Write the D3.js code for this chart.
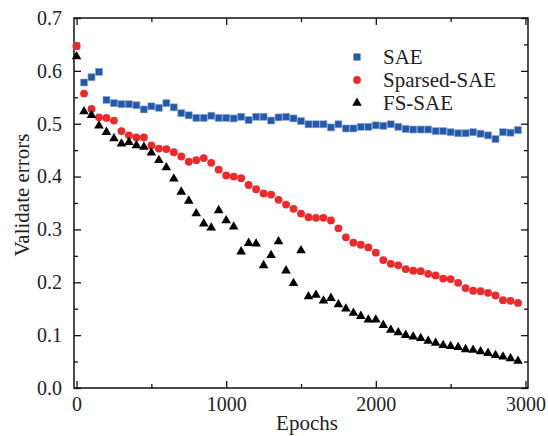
<!DOCTYPE html>
<html>
<head>
<meta charset="utf-8">
<script src="https://cdn.jsdelivr.net/npm/d3@7"></script>
<style>
    body { margin: 0; background: #fff; }
    text { font-family: 'Liberation Serif', 'Times New Roman', serif; fill: #222; }
</style>
</head>
<body>
<div id="svg"></div>
<script>
// epochs (x)
var epochs = [0, 50, 100, 150, 200, 250, 300, 350, 400, 450,
    500, 550, 600, 650, 700, 750, 800, 850, 900, 950,
    1000, 1050, 1100, 1150, 1200, 1250, 1300, 1350, 1400, 1450,
    1500, 1550, 1600, 1650, 1700, 1750, 1800, 1850, 1900, 1950,
    2000, 2050, 2100, 2150, 2200, 2250, 2300, 2350, 2400, 2450,
    2500, 2550, 2600, 2650, 2700, 2750, 2800, 2850, 2900, 2950];

var saeValues = [0.647, 0.578, 0.588, 0.598, 0.545, 0.539, 0.537, 0.537, 0.535, 0.527,
    0.533, 0.530, 0.539, 0.531, 0.520, 0.516, 0.511, 0.511, 0.515, 0.511,
    0.511, 0.510, 0.513, 0.507, 0.513, 0.513, 0.506, 0.512, 0.513, 0.510,
    0.505, 0.499, 0.499, 0.499, 0.493, 0.499, 0.491, 0.491, 0.494, 0.494,
    0.497, 0.496, 0.499, 0.494, 0.490, 0.489, 0.489, 0.489, 0.486, 0.486,
    0.484, 0.482, 0.482, 0.484, 0.481, 0.478, 0.471, 0.484, 0.483, 0.488];

var sparsedValues = [0.647, 0.557, 0.528, 0.512, 0.511, 0.506, 0.486, 0.478, 0.474, 0.474,
    0.459, 0.453, 0.452, 0.446, 0.438, 0.428, 0.431, 0.435, 0.426, 0.413,
    0.402, 0.400, 0.397, 0.384, 0.376, 0.368, 0.366, 0.356, 0.347, 0.339,
    0.330, 0.323, 0.322, 0.322, 0.317, 0.302, 0.285, 0.275, 0.271, 0.266,
    0.256, 0.242, 0.235, 0.232, 0.225, 0.222, 0.221, 0.216, 0.213, 0.207,
    0.206, 0.199, 0.189, 0.184, 0.183, 0.180, 0.175, 0.166, 0.165, 0.161];

var fsValues = [0.627, 0.523, 0.516, 0.496, 0.484, 0.472, 0.462, 0.465, 0.459, 0.456,
    0.445, 0.431, 0.417, 0.396, 0.371, 0.354, 0.330, 0.311, 0.303, 0.336,
    0.317, 0.305, 0.258, 0.274, 0.273, 0.232, 0.251, 0.277, 0.222, 0.198,
    0.260, 0.173, 0.176, 0.165, 0.170, 0.158, 0.150, 0.142, 0.136, 0.129,
    0.129, 0.119, 0.110, 0.105, 0.100, 0.097, 0.094, 0.089, 0.085, 0.081,
    0.079, 0.077, 0.073, 0.072, 0.069, 0.066, 0.062, 0.059, 0.056, 0.051];

var seriesNames = ['SAE', 'Sparsed-SAE', 'FS-SAE'];
var xTicks = [0, 1000, 2000, 3000];
var yTicks = [0.0, 0.1, 0.2, 0.3, 0.4, 0.5, 0.6, 0.7];

var width = 548;
var height = 436;
var plot = { left: 74, right: 528, top: 18, bottom: 388 };

var svg = d3.select('#svg')
    .append('svg')
    .attr('width', width)
    .attr('height', height);

var xScale = d3.scaleLinear()
    .domain([-17, 3017])
    .range([plot.left, plot.right]);
var yScale = d3.scaleLinear()
    .domain([0, 0.7])
    .range([plot.bottom, plot.top]);

// ticks inside the frame, all four sides
function drawAxis(axis, x, y) {
    var g = svg.append('g')
        .attr('transform', 'translate(' + x + ',' + y + ')')
        .call(axis);
    g.select('.domain').remove();
    g.selectAll('line').attr('stroke', '#111').attr('stroke-width', 1.3);
    return g;
}

var xMinor = [500, 1500, 2500];
var yMinor = [0.05, 0.15, 0.25, 0.35, 0.45, 0.55, 0.65];

drawAxis(d3.axisBottom(xScale).tickValues(xTicks).tickSize(-7).tickPadding(9).tickFormat(d3.format('d')), 0, plot.bottom);
drawAxis(d3.axisBottom(xScale).tickValues(xMinor).tickSize(-4).tickFormat(''), 0, plot.bottom);
drawAxis(d3.axisTop(xScale).tickValues(xTicks).tickSize(-7).tickFormat(''), 0, plot.top);
drawAxis(d3.axisTop(xScale).tickValues(xMinor).tickSize(-4).tickFormat(''), 0, plot.top);

drawAxis(d3.axisLeft(yScale).tickValues(yTicks).tickSize(-7).tickPadding(12).tickFormat(d3.format('.1f')), plot.left, 0);
drawAxis(d3.axisLeft(yScale).tickValues(yMinor).tickSize(-4).tickFormat(''), plot.left, 0);
drawAxis(d3.axisRight(yScale).tickValues(yTicks).tickSize(-7).tickFormat(''), plot.right, 0);
drawAxis(d3.axisRight(yScale).tickValues(yMinor).tickSize(-4).tickFormat(''), plot.right, 0);

svg.selectAll('.tick text')
    .style('font-family', "'Liberation Serif', serif")
    .style('font-size', '20px')
    .attr('fill', '#222');

// frame
svg.append('rect')
    .attr('x', plot.left)
    .attr('y', plot.top)
    .attr('width', plot.right - plot.left)
    .attr('height', plot.bottom - plot.top)
    .attr('fill', 'none')
    .attr('stroke', '#111')
    .attr('stroke-width', 1.5);

// axis titles
svg.append('text')
    .attr('x', 307)
    .attr('y', 430)
    .attr('text-anchor', 'middle')
    .style('font-size', '21px')
    .text('Epochs');
svg.append('text')
    .attr('transform', 'translate(29,195) rotate(-90)')
    .attr('text-anchor', 'middle')
    .style('font-size', '21px')
    .text('Validate errors');

// series
var series = [
    { name: seriesNames[0], values: saeValues, symbol: d3.symbolSquare, size: 48, fill: '#2458a9', stroke: '#7d9dd2' },
    { name: seriesNames[1], values: sparsedValues, symbol: d3.symbolCircle, size: 48, fill: '#ec2a2c', stroke: 'none' },
    { name: seriesNames[2], values: fsValues, symbol: d3.symbolTriangle, size: 40, fill: '#000', stroke: 'none' }
];

series.forEach(function (s) {
    var shape = d3.symbol().type(s.symbol).size(s.size);
    svg.append('g')
        .selectAll('path')
        .data(epochs)
        .enter()
        .append('path')
        .attr('d', shape)
        .attr('transform', function (d, i) {
            return 'translate(' + xScale(d) + ',' + yScale(s.values[i]) + ')';
        })
        .attr('fill', s.fill)
        .attr('stroke', s.stroke)
        .attr('stroke-width', 0.6);
});

// legend
var legend = svg.append('g').attr('transform', 'translate(357,57)');
series.forEach(function (s, i) {
    var row = legend.append('g').attr('transform', 'translate(0,' + (i * 23) + ')');
    row.append('path')
        .attr('d', d3.symbol().type(s.symbol).size(s.size)())
        .attr('fill', s.fill)
        .attr('stroke', s.stroke)
        .attr('stroke-width', 0.6);
    row.append('text')
        .attr('x', 26)
        .attr('y', 7)
        .style('font-size', '21px')
        .text(s.name);
});
</script>
</body>
</html>
